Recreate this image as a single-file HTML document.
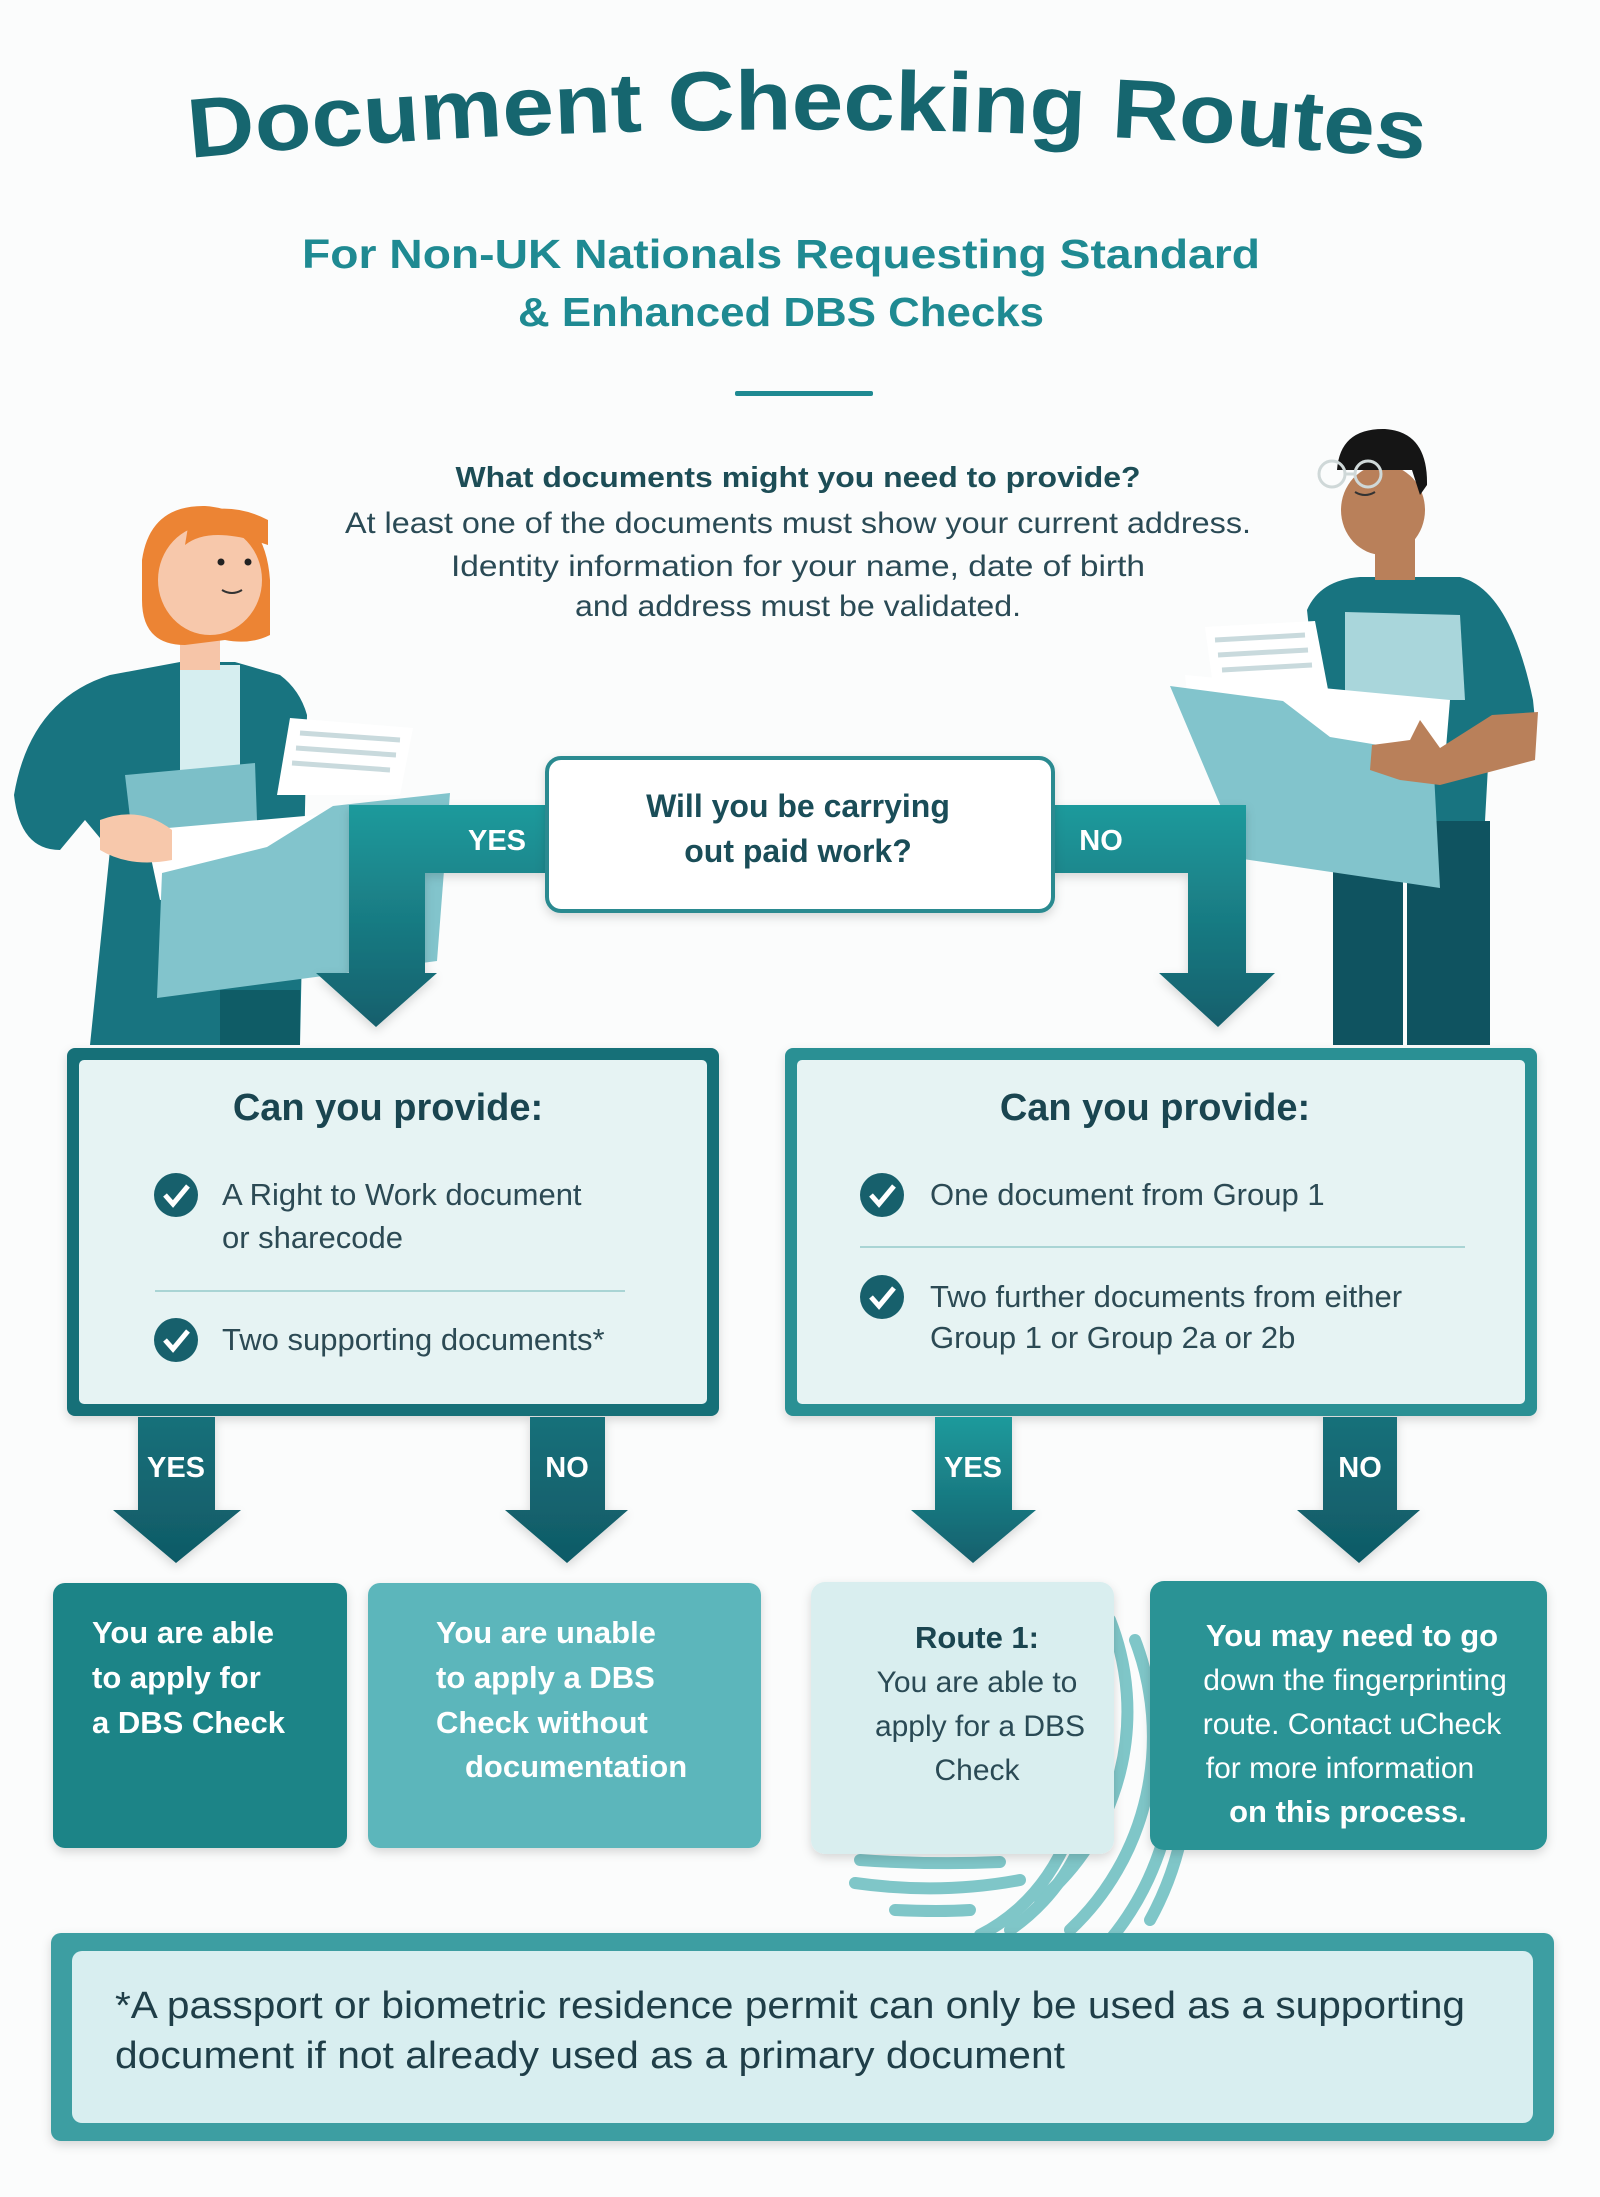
<!DOCTYPE html>
<html><head><meta charset="utf-8"><style>
html,body{margin:0;padding:0;background:#fbfcfc;}
svg{display:block;}
text{font-family:"Liberation Sans",sans-serif;}
</style></head><body>
<svg width="1600" height="2197" viewBox="0 0 1600 2197" xmlns="http://www.w3.org/2000/svg">
<defs>
<linearGradient id="ar" x1="0" y1="0" x2="0" y2="1"><stop offset="0" stop-color="#1f9a9c"/><stop offset="1" stop-color="#135f6c"/></linearGradient>
<linearGradient id="ar2" x1="0" y1="0" x2="0" y2="1"><stop offset="0" stop-color="#16707a"/><stop offset="1" stop-color="#105a66"/></linearGradient>
<filter id="sh" x="-10%" y="-10%" width="120%" height="130%"><feDropShadow dx="0" dy="4" stdDeviation="5" flood-color="#000" flood-opacity="0.15"/></filter>
<path id="arc" d="M190,158 Q808,100 1426,160"/>
</defs>
<rect width="1600" height="2197" fill="#fbfcfc"/>

<!-- Title -->
<text font-size="84" font-weight="bold" fill="#16666f"><textPath href="#arc" textLength="1236" lengthAdjust="spacingAndGlyphs">Document Checking Routes</textPath></text>
<text x="781" y="268" font-size="41" font-weight="bold" fill="#1f8a92" text-anchor="middle" textLength="958" lengthAdjust="spacingAndGlyphs">For Non-UK Nationals Requesting Standard</text>
<text x="781" y="326" font-size="41" font-weight="bold" fill="#1f8a92" text-anchor="middle" textLength="526" lengthAdjust="spacingAndGlyphs">&amp; Enhanced DBS Checks</text>
<rect x="735" y="391" width="138" height="5" rx="2" fill="#1f8a92"/>

<text x="798" y="487" font-size="29" font-weight="bold" fill="#1d4d56" text-anchor="middle" textLength="685" lengthAdjust="spacingAndGlyphs">What documents might you need to provide?</text>
<text x="798" y="533" font-size="30" fill="#2a4a55" text-anchor="middle" textLength="906" lengthAdjust="spacingAndGlyphs">At least one of the documents must show your current address.</text>
<text x="798" y="576" font-size="30" fill="#2a4a55" text-anchor="middle" textLength="694" lengthAdjust="spacingAndGlyphs">Identity information for your name, date of birth</text>
<text x="798" y="616" font-size="30" fill="#2a4a55" text-anchor="middle" textLength="446" lengthAdjust="spacingAndGlyphs">and address must be validated.</text>

<!-- Woman -->
<g>
<path d="M14,795 Q30,700 110,675 L180,662 L235,662 L280,675 Q300,690 307,715 L300,1045 L90,1045 L110,850 L85,820 L60,850 Q20,850 14,795 Z" fill="#187480"/>
<rect x="180" y="665" width="60" height="120" fill="#d6eef0"/>
<rect x="180" y="630" width="40" height="40" fill="#f6c5a8"/>
<path d="M142,560 Q150,505 205,506 Q265,510 270,580 L270,635 Q250,645 225,640 L185,645 Q142,645 142,600 Z" fill="#ec8434"/>
<ellipse cx="210" cy="580" rx="52" ry="55" fill="#f7c8ab"/>
<path d="M185,545 Q210,525 268,545 L268,520 Q230,500 190,515 Z" fill="#ec8434"/>
<circle cx="221" cy="562" r="3.5" fill="#222"/><circle cx="248" cy="562" r="3.5" fill="#222"/>
<path d="M222,590 Q232,596 242,590" stroke="#333" stroke-width="2" fill="none"/>
<rect x="220" y="990" width="80" height="55" fill="#0f5c66"/>
<path d="M125,775 L255,763 L258,850 L135,860 Z" fill="#7cbfc8"/>
<path d="M290,718 L413,728 L400,795 L277,795 Z" fill="#fff"/>
<g stroke="#c9dadd" stroke-width="5"><line x1="300" y1="733" x2="400" y2="740"/><line x1="296" y1="748" x2="396" y2="755"/><line x1="292" y1="763" x2="390" y2="770"/></g>
<path d="M145,830 L430,805 L440,870 L160,900 Z" fill="#fff"/>
<path d="M162,873 L267,847 L333,806 L450,793 L437,961 L157,998 Z" fill="#82c4cc"/>
<path d="M100,820 Q140,805 172,830 L172,860 Q130,868 100,850 Z" fill="#f7c8ab"/>
</g>

<!-- Man -->
<g>
<path d="M1307,610 Q1320,580 1360,577 L1460,577 Q1510,590 1533,700 L1535,720 L1490,730 L1485,821 L1330,821 Z" fill="#187480"/>
<rect x="1333" y="821" width="157" height="224" fill="#0f5360"/>
<line x1="1405" y1="860" x2="1405" y2="1045" stroke="#fbfcfc" stroke-width="4"/>
<rect x="1375" y="535" width="40" height="45" fill="#b9805a"/>
<ellipse cx="1383" cy="510" rx="42" ry="45" fill="#b9805a"/>
<path d="M1337,470 Q1340,428 1385,429 Q1428,432 1427,485 L1420,495 L1412,470 L1350,470 Z" fill="#151515"/>
<circle cx="1332" cy="474" r="13" fill="none" stroke="#cfd8d8" stroke-width="3"/>
<circle cx="1368" cy="474" r="13" fill="none" stroke="#cfd8d8" stroke-width="3"/>
<line x1="1345" y1="474" x2="1355" y2="474" stroke="#cfd8d8" stroke-width="3"/>
<path d="M1355,492 Q1365,498 1375,492" stroke="#333" stroke-width="2" fill="none"/>
<path d="M1205,627 L1315,621 L1330,700 L1215,700 Z" fill="#fff"/>
<g stroke="#c9dadd" stroke-width="5"><line x1="1215" y1="640" x2="1305" y2="635"/><line x1="1218" y1="655" x2="1308" y2="650"/><line x1="1222" y1="670" x2="1312" y2="665"/></g>
<path d="M1345,612 L1460,615 L1465,700 L1345,700 Z" fill="#a9d6db"/>
<path d="M1185,675 L1450,700 L1445,760 L1190,720 Z" fill="#fff"/>
<path d="M1170,686 L1283,701 L1330,737 L1433,754 L1440,888 L1243,859 Z" fill="#82c4cc"/>
<path d="M1492,715 L1538,712 L1535,760 L1440,785 L1400,780 L1370,770 L1372,745 L1410,740 L1420,720 L1440,748 Z" fill="#b9805a"/>
</g>

<!-- Top connectors -->
<g filter="url(#sh)">
<path d="M546,805 L349,805 L349,973 L316,973 L376,1027 L437,973 L425,973 L425,873 L546,873 Z" fill="url(#ar)"/>
<path d="M1053,805 L1246,805 L1246,973 L1275,973 L1218,1027 L1159,973 L1188,973 L1188,873 L1053,873 Z" fill="url(#ar)"/>
</g>
<text x="497" y="850" font-size="29" font-weight="bold" fill="#fff" text-anchor="middle">YES</text>
<text x="1101" y="850" font-size="29" font-weight="bold" fill="#fff" text-anchor="middle">NO</text>

<!-- Question box -->
<rect x="547" y="758" width="506" height="153" rx="14" fill="#fff" stroke="#2a8a90" stroke-width="4" filter="url(#sh)"/>
<text x="798" y="817" font-size="32" font-weight="bold" fill="#1a4d58" text-anchor="middle">Will you be carrying</text>
<text x="798" y="862" font-size="32" font-weight="bold" fill="#1a4d58" text-anchor="middle">out paid work?</text>

<!-- Can you provide boxes -->
<g filter="url(#sh)">
<rect x="67" y="1048" width="652" height="368" rx="8" fill="#177078"/>
<rect x="785" y="1048" width="752" height="368" rx="8" fill="#2a9094"/>
</g>
<rect x="79" y="1060" width="628" height="344" rx="5" fill="#e6f3f3"/>
<rect x="797" y="1060" width="728" height="344" rx="5" fill="#e6f3f3"/>
<text x="388" y="1120" font-size="38" font-weight="bold" fill="#1a4550" text-anchor="middle">Can you provide:</text>
<text x="1155" y="1120" font-size="38" font-weight="bold" fill="#1a4550" text-anchor="middle">Can you provide:</text>
<g font-size="31" fill="#2c4a54">
<circle cx="176" cy="1195" r="22" fill="#17606c"/>
<path d="M165,1195 L173,1204 L188,1186" stroke="#fff" stroke-width="5" fill="none"/>
<text x="222" y="1205">A Right to Work document</text>
<text x="222" y="1248">or sharecode</text>
<line x1="155" y1="1291" x2="625" y2="1291" stroke="#a9d4d4" stroke-width="2"/>
<circle cx="176" cy="1340" r="22" fill="#17606c"/>
<path d="M165,1340 L173,1349 L188,1331" stroke="#fff" stroke-width="5" fill="none"/>
<text x="222" y="1350">Two supporting documents*</text>
<circle cx="882" cy="1195" r="22" fill="#17606c"/>
<path d="M871,1195 L879,1204 L894,1186" stroke="#fff" stroke-width="5" fill="none"/>
<text x="930" y="1205">One document from Group 1</text>
<line x1="860" y1="1247" x2="1465" y2="1247" stroke="#a9d4d4" stroke-width="2"/>
<circle cx="882" cy="1297" r="22" fill="#17606c"/>
<path d="M871,1297 L879,1306 L894,1288" stroke="#fff" stroke-width="5" fill="none"/>
<text x="930" y="1307">Two further documents from either</text>
<text x="930" y="1348">Group 1 or Group 2a or 2b</text>
</g>

<!-- Second-level arrows -->
<g filter="url(#sh)" fill="url(#ar2)">
<path d="M138,1417 L215,1417 L215,1510 L241,1510 L176,1563 L113,1510 L138,1510 Z"/>
<path d="M530,1417 L605,1417 L605,1510 L628,1510 L567,1563 L505,1510 L530,1510 Z"/>
<path d="M935,1417 L1012,1417 L1012,1510 L1036,1510 L973,1563 L911,1510 L935,1510 Z" fill="url(#ar)"/>
<path d="M1323,1417 L1397,1417 L1397,1510 L1420,1510 L1359,1563 L1297,1510 L1323,1510 Z"/>
</g>
<g font-size="29" font-weight="bold" fill="#fff" text-anchor="middle">
<text x="176" y="1477">YES</text><text x="567" y="1477">NO</text>
<text x="973" y="1477">YES</text><text x="1360" y="1477">NO</text>
</g>

<!-- Fingerprint -->
<g fill="none" stroke="#7fc6c8" stroke-width="12" stroke-linecap="round">
<path d="M1110,1620 A230,240 0 0 1 1040,1900"/>
<path d="M1135,1640 A250,260 0 0 1 1070,1930"/>
<path d="M1158,1660 A270,280 0 0 1 1110,1940"/>
<path d="M1180,1700 A290,300 0 0 1 1150,1920"/>
<path d="M1100,1750 A200,210 0 0 1 1010,1930"/>
<path d="M1080,1790 A180,190 0 0 1 980,1935"/>
<path d="M860,1860 Q930,1865 1000,1862"/>
<path d="M855,1883 Q940,1895 1020,1880"/>
<path d="M895,1910 Q940,1912 970,1910"/>
</g>

<!-- Result boxes -->
<g filter="url(#sh)">
<rect x="53" y="1583" width="294" height="265" rx="12" fill="#1a8487"/>
<rect x="368" y="1583" width="393" height="265" rx="12" fill="#5cb6bb"/>
<rect x="811" y="1582" width="303" height="272" rx="14" fill="#d9eeef"/>
<rect x="1150" y="1581" width="397" height="269" rx="14" fill="#2a9395"/>
</g>
<g font-size="31" font-weight="bold" fill="#fff">
<text x="92" y="1643">You are able</text>
<text x="92" y="1688">to apply for</text>
<text x="92" y="1733">a DBS Check</text>
<text x="436" y="1643">You are unable</text>
<text x="436" y="1688">to apply a DBS</text>
<text x="436" y="1733">Check without</text>
<text x="465" y="1777">documentation</text>
</g>
<text x="977" y="1648" font-size="31" font-weight="bold" fill="#1a4550" text-anchor="middle">Route 1:</text>
<g font-size="30" fill="#2a4a55" text-anchor="middle">
<text x="977" y="1692">You are able to</text>
<text x="980" y="1736">apply for a DBS</text>
<text x="977" y="1780">Check</text>
</g>
<g fill="#fff" text-anchor="middle">
<text x="1352" y="1646" font-size="31" font-weight="bold">You may need to go</text>
<text x="1355" y="1690" font-size="30">down the fingerprinting</text>
<text x="1352" y="1734" font-size="30">route. Contact uCheck</text>
<text x="1340" y="1778" font-size="30">for more information</text>
<text x="1348" y="1822" font-size="31" font-weight="bold">on this process.</text>
</g>

<!-- Footer -->
<rect x="51" y="1933" width="1503" height="208" rx="10" fill="#3c9ea2" filter="url(#sh)"/>
<rect x="72" y="1951" width="1461" height="172" rx="10" fill="#d8eef0"/>
<text x="115" y="2018" font-size="38" fill="#1f3e48" textLength="1350" lengthAdjust="spacingAndGlyphs">*A passport or biometric residence permit can only be used as a supporting</text>
<text x="115" y="2068" font-size="38" fill="#1f3e48" textLength="950" lengthAdjust="spacingAndGlyphs">document if not already used as a primary document</text>
</svg>
</body></html>
